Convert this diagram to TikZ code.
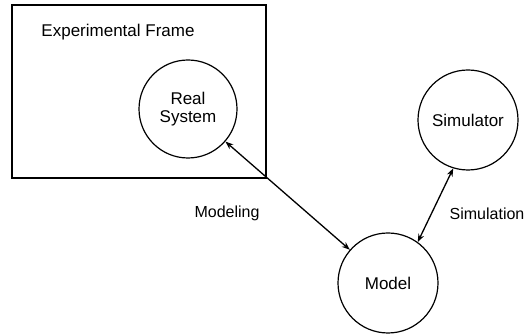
\documentclass[tikz,border=0pt]{standalone}
\usepackage{fontspec}
\setmainfont{Liberation Sans}
\usetikzlibrary{shapes.geometric, arrows.meta, positioning}

\begin{document}
\begin{tikzpicture}[x=1pt, y=1pt, >={Stealth[length=8pt, width=6pt]}]
\tikzstyle{entity} = [circle, draw, line width=1.2pt, minimum size=100pt, inner sep=0pt, align=center, font=\fontsize{17}{18}\selectfont]
\tikzstyle{label} = [font=\fontsize{16}{18}\selectfont]
\tikzstyle{link} = [<->, line width=1.3pt]

\useasboundingbox (0,0) rectangle (524,336);

\node (frame) [draw, line width=1.2pt, minimum width=254pt, minimum height=173pt, inner sep=0pt] at (139,244.5) {};
\node (frametitle) [font=\fontsize{17}{18}\selectfont] at (118,304) {Experimental Frame};

\node (real) [entity, minimum size=98pt] at (188,227) {Real\\System};
\node (sim) [entity] at (468,216) {Simulator};
\node (model) [entity] at (388,53) {Model};

\draw [link] (real) -- (model);
\draw [link] (sim.253) -- (model.54);

\node (modeling) [label] at (227,123) {Modeling};
\node (simulation) [label] at (487,122) {Simulation};

\end{tikzpicture}
\end{document}
